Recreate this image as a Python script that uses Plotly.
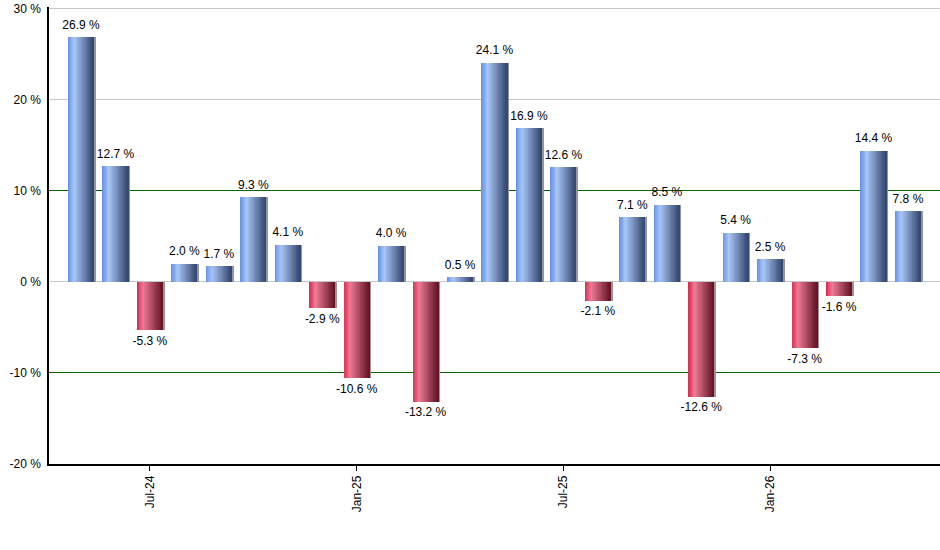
import plotly.graph_objects as go

months = [
    "May-24", "Jun-24", "Jul-24", "Aug-24", "Sep-24", "Oct-24", "Nov-24",
    "Dec-24", "Jan-25", "Feb-25", "Mar-25", "Apr-25", "May-25", "Jun-25",
    "Jul-25", "Aug-25", "Sep-25", "Oct-25", "Nov-25", "Dec-25", "Jan-26",
    "Feb-26", "Mar-26", "Apr-26", "May-26",
]
returns = [
    26.9, 12.7, -5.3, 2.0, 1.7, 9.3, 4.1, -2.9, -10.6, 4.0, -13.2, 0.5,
    24.1, 16.9, 12.6, -2.1, 7.1, 8.5, -12.6, 5.4, 2.5, -7.3, -1.6, 14.4, 7.8,
]
tick_months = ["Jul-24", "Jan-25", "Jul-25", "Jan-26"]
y_ticks = [-20, -10, 0, 10, 20, 30]
y_ticktext = ["{} %".format(v) for v in y_ticks]

# gradient stops (position, rgb) left -> right
blue_stops = [(0.0, (98, 146, 232)), (0.25, (170, 198, 245)), (1.0, (50, 70, 110))]
red_stops = [(0.0, (222, 36, 76)), (0.25, (236, 124, 150)), (1.0, (100, 20, 38))]


def grad(stops, t):
    for (p0, c0), (p1, c1) in zip(stops[:-1], stops[1:]):
        if p0 <= t <= p1:
            f = (t - p0) / (p1 - p0)
            c = [round(a + (b - a) * f) for a, b in zip(c0, c1)]
            return "rgb({},{},{})".format(*c)
    return "rgb({},{},{})".format(*stops[-1][1])


bar_w = 0.73
n_strips = 30
strip_w = bar_w / n_strips

fig = go.Figure()

# drop shadow on the right
fig.add_trace(go.Bar(
    x=months, y=returns,
    offset=-bar_w / 2 + 0.06, width=bar_w,
    marker=dict(color="rgb(150,150,150)", line_width=0),
    hoverinfo="skip", showlegend=False,
))

for i in range(n_strips):
    t = (i + 0.5) / n_strips
    colors = [grad(blue_stops, t) if v >= 0 else grad(red_stops, t) for v in returns]
    fig.add_trace(go.Bar(
        x=months, y=returns,
        offset=-bar_w / 2 + i * strip_w,
        width=strip_w * 1.5 if i < n_strips - 1 else strip_w,
        marker=dict(color=colors, line_width=0),
        hoverinfo="skip", showlegend=False,
    ))

labels = ["{:.1f} %".format(v) for v in returns]
fig.add_trace(go.Scatter(
    x=months, y=returns, mode="markers+text", text=labels, yaxis="y2",
    marker=dict(size=7, opacity=0),
    textposition=["top center" if v >= 0 else "bottom center" for v in returns],
    textfont=dict(size=12, color="black", family="Liberation Sans, Arial, sans-serif"),
    hovertemplate="%{x}: %{y:.1f} %<extra></extra>", showlegend=False,
    cliponaxis=False,
))

y_range = [-20, 30.2]

fig.update_layout(
    width=940, height=550,
    margin=dict(l=49, r=0, t=7, b=86),
    barmode="overlay", bargap=0,
    plot_bgcolor="white", paper_bgcolor="white",
    font=dict(family="Liberation Sans, Arial, sans-serif", size=12, color="black"),
    xaxis=dict(
        type="category", range=[-0.93, len(months) - 0.07],
        tickmode="array", tickvals=tick_months, ticktext=tick_months,
        tickangle=-90, ticks="outside", ticklen=5, tickcolor="black",
        showline=True, linecolor="black", linewidth=1.5, showgrid=False,
        fixedrange=True, automargin=False,
    ),
    yaxis=dict(
        range=y_range, tickmode="array", tickvals=y_ticks, ticktext=y_ticktext,
        showline=True, linecolor="black", linewidth=1.5,
        showgrid=True, gridcolor="rgb(200,200,200)", gridwidth=1,
        zeroline=True, zerolinecolor="rgb(200,200,200)", zerolinewidth=1,
        ticks="", ticklabelstandoff=4, fixedrange=True, automargin=False,
    ),
    # second axis only carries the dark green lines at +/-10 %
    yaxis2=dict(
        overlaying="y", range=y_range, tickvals=[-10, 10],
        showticklabels=False, showline=False, zeroline=False, ticks="",
        showgrid=True, gridcolor="rgb(0,100,0)", gridwidth=1,
        fixedrange=True, automargin=False,
    ),
)

# drop the default 8px page margin so the chart sits at the window corner
fig.write_html(
    "out.html",
    config={"displayModeBar": False},
    post_script="document.body.style.margin='0';",
)
